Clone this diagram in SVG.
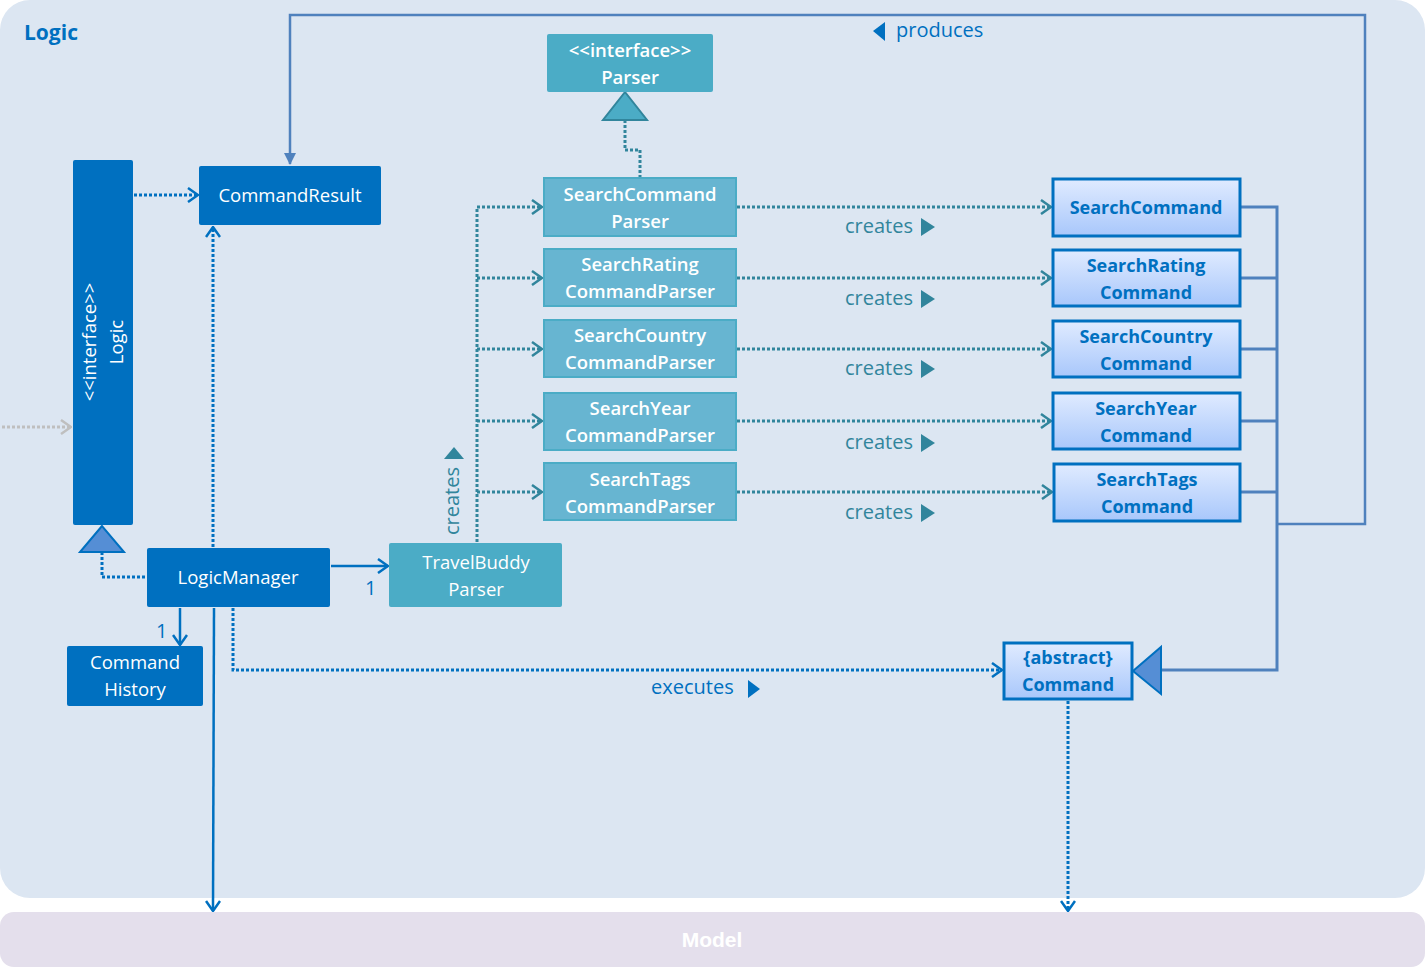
<svg xmlns="http://www.w3.org/2000/svg" width="1425" height="967" viewBox="0 0 1425 967">
  <defs>
    <linearGradient id="cmdFill" x1="0" y1="0" x2="0" y2="1">
      <stop offset="0" stop-color="#e0ebff"/>
      <stop offset="1" stop-color="#a8c7fb"/>
    </linearGradient>
    <marker id="openBlue" viewBox="0 0 12 16" refX="11" refY="8" markerWidth="12" markerHeight="16" markerUnits="userSpaceOnUse" orient="auto">
      <path d="M1,1 L11,8 L1,15" fill="none" stroke="#0070c0" stroke-width="2.5"/>
    </marker>
    <marker id="openTeal" viewBox="0 0 12 16" refX="11" refY="8" markerWidth="12" markerHeight="16" markerUnits="userSpaceOnUse" orient="auto">
      <path d="M1,1 L11,8 L1,15" fill="none" stroke="#31859c" stroke-width="2.5"/>
    </marker>
    <marker id="openGrey" viewBox="0 0 12 16" refX="11" refY="8" markerWidth="12" markerHeight="16" markerUnits="userSpaceOnUse" orient="auto">
      <path d="M1,1 L11,8 L1,15" fill="none" stroke="#bfbfbf" stroke-width="2.5"/>
    </marker>
    <marker id="filledSteel" viewBox="0 0 12 12" refX="11" refY="6" markerWidth="12" markerHeight="12" markerUnits="userSpaceOnUse" orient="auto">
      <path d="M0,0 L12,6 L0,12 Z" fill="#4f81bd"/>
    </marker>
  </defs>
  <style>
    text { font-family: "Open Sans", "Noto Sans", "Liberation Sans", sans-serif; }
    .lbl { font-size: 18.5px; fill: #ffffff; text-anchor: middle; }
    .lblb { font-size: 18.5px; fill: #ffffff; text-anchor: middle; font-weight: 600; }
    .cmdt { font-size: 18px; fill: #0070c0; text-anchor: middle; font-weight: 700; }
    .dark { fill: #0070c0; }
    .parser { fill: #4bacc6; }
    .subparser { fill: #67b5d1; stroke: #4bacc6; stroke-width: 2; }
    .cmd { fill: url(#cmdFill); stroke: #0070c0; stroke-width: 3; }
    .dotBlue { fill: none; stroke: #0070c0; stroke-width: 3; stroke-dasharray: 3 2; }
    .dotTeal { fill: none; stroke: #31859c; stroke-width: 3; stroke-dasharray: 3 2; }
    .solidBlue { fill: none; stroke: #0070c0; stroke-width: 2.5; }
    .steel { fill: none; stroke: #4f81bd; stroke-width: 3; }
    .creates { font-size: 20px; fill: #31859c; }
    .note { font-size: 20px; fill: #0070c0; }
  </style>

  <!-- package backgrounds -->
  <rect x="0" y="0" width="1425" height="898" rx="30" ry="30" fill="#dce6f2"/>
  <rect x="0" y="912" width="1425" height="55" rx="14" ry="14" fill="#e4dfec"/>
  <text x="712" y="947" font-size="21" font-weight="700" fill="#ffffff" text-anchor="middle" style="font-family:'Liberation Sans', Arial, sans-serif">Model</text>
  <text x="24" y="40" font-size="21" font-weight="700" fill="#0070c0">Logic</text>

  <!-- connectors -->
  <g id="connectors">
    <!-- external caller into Logic -->
    <path d="M2,427 L71,427" fill="none" stroke="#bfbfbf" stroke-width="3" stroke-dasharray="3 2" marker-end="url(#openGrey)"/>
    <!-- Logic -> CommandResult -->
    <path class="dotBlue" d="M134,195 L198,195" marker-end="url(#openBlue)"/>
    <!-- LogicManager realises Logic -->
    <path class="dotBlue" d="M102,552 L102,577 L147,577"/>
    <!-- LogicManager -> CommandResult -->
    <path class="dotBlue" d="M213,547 L213,227" marker-end="url(#openBlue)"/>
    <!-- LogicManager -> TravelBuddyParser -->
    <path class="solidBlue" d="M331,566 L388,566" marker-end="url(#openBlue)"/>
    <!-- LogicManager -> CommandHistory -->
    <path class="solidBlue" d="M180,608 L180,645" marker-end="url(#openBlue)"/>
    <!-- LogicManager -> Model -->
    <path class="solidBlue" d="M214,608 L213,911" marker-end="url(#openBlue)"/>
    <!-- executes -->
    <path class="dotBlue" d="M233,608 L233,670 L1002,670" marker-end="url(#openBlue)"/>
    <!-- Command -> Model -->
    <path class="dotBlue" d="M1068,701 L1068,911" marker-end="url(#openBlue)"/>

    <!-- TravelBuddyParser creates parsers -->
    <path class="dotTeal" d="M477,542 L477,207"/>
    <path class="dotTeal" d="M477,207 L542,207" marker-end="url(#openTeal)"/>
    <path class="dotTeal" d="M477,278 L542,278" marker-end="url(#openTeal)"/>
    <path class="dotTeal" d="M477,349 L542,349" marker-end="url(#openTeal)"/>
    <path class="dotTeal" d="M477,421 L542,421" marker-end="url(#openTeal)"/>
    <path class="dotTeal" d="M477,492 L542,492" marker-end="url(#openTeal)"/>

    <!-- parser realises Parser -->
    <path class="dotTeal" d="M625,120 L625,150 L640,150 L640,177"/>

    <!-- parsers create commands -->
    <path class="dotTeal" d="M737,207 L1051,207" marker-end="url(#openTeal)"/>
    <path class="dotTeal" d="M737,278 L1051,278" marker-end="url(#openTeal)"/>
    <path class="dotTeal" d="M737,349 L1051,349" marker-end="url(#openTeal)"/>
    <path class="dotTeal" d="M737,421 L1051,421" marker-end="url(#openTeal)"/>
    <path class="dotTeal" d="M737,492 L1052,492" marker-end="url(#openTeal)"/>

    <!-- command inheritance bus -->
    <path class="steel" d="M1241,207 L1277,207 L1277,670 L1161,670"/>
    <path class="steel" d="M1241,278 L1277,278"/>
    <path class="steel" d="M1241,349 L1277,349"/>
    <path class="steel" d="M1241,421 L1277,421"/>
    <path class="steel" d="M1241,492 L1277,492"/>

    <!-- produces CommandResult -->
    <path d="M1277,524 L1365,524 L1365,15 L290,15 L290,164" fill="none" stroke="#4f81bd" stroke-width="2.5" marker-end="url(#filledSteel)"/>

    <!-- generalisation heads -->
    <polygon points="102,526 80,552 124,552" fill="#558ed5" stroke="#0070c0" stroke-width="2"/>
    <polygon points="625,92 603,120 647,120" fill="#4bacc6" stroke="#31859c" stroke-width="2"/>
    <polygon points="1133,671 1161,647 1161,694" fill="#558ed5" stroke="#0070c0" stroke-width="2"/>

    <!-- labels -->
    <text class="note" x="365" y="595">1</text>
    <text class="note" x="156" y="638">1</text>
    <text class="note" x="651" y="694">executes</text>
    <polygon points="748,680 760,689 748,698" fill="#0070c0"/>
    <polygon points="885,22 873,31 885,41" fill="#0070c0"/>
    <text class="note" x="896" y="37">produces</text>

    <text class="creates" transform="translate(459,535) rotate(-90)">creates</text>
    <polygon points="454,447 444,459 464,459" fill="#31859c"/>

    <text class="creates" x="845" y="233">creates</text>
    <polygon points="921,218 935,227 921,236" fill="#31859c"/>
    <text class="creates" x="845" y="305">creates</text>
    <polygon points="921,290 935,299 921,308" fill="#31859c"/>
    <text class="creates" x="845" y="375">creates</text>
    <polygon points="921,360 935,369 921,378" fill="#31859c"/>
    <text class="creates" x="845" y="449">creates</text>
    <polygon points="921,434 935,443 921,452" fill="#31859c"/>
    <text class="creates" x="845" y="519">creates</text>
    <polygon points="921,504 935,513 921,522" fill="#31859c"/>
  </g>

  <!-- Logic interface -->
  <g id="logic">
    <rect class="dark" x="73" y="160" width="60" height="365" rx="2"/>
    <g transform="translate(103,342) rotate(-90)">
      <text class="lbl" x="0" y="-7">&lt;&lt;interface&gt;&gt;</text>
      <text class="lbl" x="0" y="20">Logic</text>
    </g>
  </g>

  <g id="commandResult">
    <rect class="dark" x="199" y="166" width="182" height="59" rx="2"/>
    <text class="lbl" x="290" y="202">CommandResult</text>
  </g>

  <g id="logicManager">
    <rect class="dark" x="147" y="548" width="183" height="59" rx="2"/>
    <text class="lbl" x="238" y="584">LogicManager</text>
  </g>

  <g id="commandHistory">
    <rect class="dark" x="67" y="646" width="136" height="60" rx="2"/>
    <text class="lbl" x="135" y="669">Command</text>
    <text class="lbl" x="135" y="696">History</text>
  </g>

  <g id="travelBuddyParser">
    <rect class="parser" x="389" y="543" width="173" height="64" rx="2"/>
    <text class="lbl" x="476" y="569">TravelBuddy</text>
    <text class="lbl" x="476" y="596">Parser</text>
  </g>

  <g id="parserInterface">
    <rect class="parser" x="547" y="34" width="166" height="58" rx="2"/>
    <text class="lblb" x="630" y="57">&lt;&lt;interface&gt;&gt;</text>
    <text class="lblb" x="630" y="84">Parser</text>
  </g>

  <g id="searchCommandParser">
    <rect class="subparser" x="544" y="178" width="192" height="58"/>
    <text class="lblb" x="640" y="201">SearchCommand</text>
    <text class="lblb" x="640" y="228">Parser</text>
  </g>
  <g id="searchRatingCommandParser">
    <rect class="subparser" x="544" y="249" width="192" height="57"/>
    <text class="lblb" x="640" y="271">SearchRating</text>
    <text class="lblb" x="640" y="298">CommandParser</text>
  </g>
  <g id="searchCountryCommandParser">
    <rect class="subparser" x="544" y="320" width="192" height="57"/>
    <text class="lblb" x="640" y="342">SearchCountry</text>
    <text class="lblb" x="640" y="369">CommandParser</text>
  </g>
  <g id="searchYearCommandParser">
    <rect class="subparser" x="544" y="393" width="192" height="57"/>
    <text class="lblb" x="640" y="415">SearchYear</text>
    <text class="lblb" x="640" y="442">CommandParser</text>
  </g>
  <g id="searchTagsCommandParser">
    <rect class="subparser" x="544" y="463" width="192" height="57"/>
    <text class="lblb" x="640" y="486">SearchTags</text>
    <text class="lblb" x="640" y="513">CommandParser</text>
  </g>

  <g id="searchCommand">
    <rect class="cmd" x="1053" y="179" width="187" height="57"/>
    <text class="cmdt" x="1146" y="214">SearchCommand</text>
  </g>
  <g id="searchRatingCommand">
    <rect class="cmd" x="1053" y="250" width="187" height="56"/>
    <text class="cmdt" x="1146" y="272">SearchRating</text>
    <text class="cmdt" x="1146" y="299">Command</text>
  </g>
  <g id="searchCountryCommand">
    <rect class="cmd" x="1053" y="321" width="187" height="56"/>
    <text class="cmdt" x="1146" y="343">SearchCountry</text>
    <text class="cmdt" x="1146" y="370">Command</text>
  </g>
  <g id="searchYearCommand">
    <rect class="cmd" x="1053" y="393" width="187" height="56"/>
    <text class="cmdt" x="1146" y="415">SearchYear</text>
    <text class="cmdt" x="1146" y="442">Command</text>
  </g>
  <g id="searchTagsCommand">
    <rect class="cmd" x="1054" y="464" width="186" height="57"/>
    <text class="cmdt" x="1147" y="486">SearchTags</text>
    <text class="cmdt" x="1147" y="513">Command</text>
  </g>

  <g id="abstractCommand">
    <rect class="cmd" x="1004" y="643" width="128" height="56"/>
    <text class="cmdt" x="1068" y="664">{abstract}</text>
    <text class="cmdt" x="1068" y="691">Command</text>
  </g>
</svg>
